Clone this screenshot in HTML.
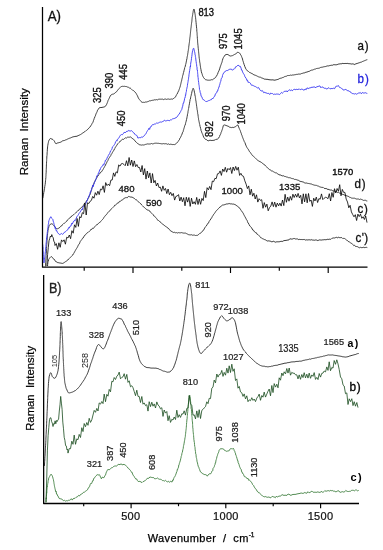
<!DOCTYPE html>
<html><head><meta charset="utf-8"><title>Raman spectra</title>
<style>
html,body{margin:0;padding:0;background:#fff;}
body{width:383px;height:550px;overflow:hidden;font-family:"Liberation Sans",sans-serif;}
svg{display:block;will-change:transform;}
svg text{font-family:"Liberation Sans",sans-serif;}
</style></head><body>
<svg width="383" height="550" viewBox="0 0 383 550">
<rect width="383" height="550" fill="#fff"/>
<g id="curves">
<path d="M47.6 266.1 L47.6 264.8 L47.7 264.4 L47.9 262.6 L48.1 261.7 L48.4 261.2 L48.6 259.7 L49.0 258.9 L49.5 258.3 L50.3 257.3 L51.1 256.5 L51.8 256.9 L52.5 257.5 L53.2 258.7 L53.9 259.0 L54.7 260.0 L55.4 261.2 L56.2 262.0 L57.0 261.8 L57.8 262.8 L58.8 262.7 L59.8 263.0 L60.8 263.1 L61.8 263.3 L62.7 263.4 L63.7 262.9 L64.6 262.3 L65.4 261.7 L66.3 261.2 L67.1 260.5 L67.8 260.1 L68.6 259.0 L69.3 258.5 L70.0 257.8 L70.7 257.1 L71.4 256.4 L72.0 255.6 L72.7 255.1 L73.3 253.9 L73.8 253.5 L74.4 252.2 L74.9 251.3 L75.3 250.6 L75.8 249.7 L76.3 248.8 L76.8 248.2 L77.3 247.3 L77.8 246.3 L78.3 245.2 L78.8 244.4 L79.3 243.9 L79.8 242.7 L80.3 241.4 L80.9 240.7 L81.4 239.9 L81.9 239.4 L82.5 238.3 L83.1 238.1 L83.7 236.9 L84.3 236.0 L84.9 235.1 L85.6 234.7 L86.3 233.7 L87.0 232.9 L87.8 232.6 L88.6 231.8 L89.4 231.5 L90.2 230.6 L91.0 229.2 L91.7 229.5 L92.5 228.2 L93.3 228.4 L94.0 227.8 L94.8 226.6 L95.6 225.7 L96.3 225.0 L97.1 224.9 L97.8 224.0 L98.6 223.2 L99.3 222.6 L100.0 222.5 L100.7 221.4 L101.4 220.7 L102.1 220.0 L102.7 219.3 L103.4 218.5 L104.0 217.3 L104.6 216.6 L105.3 215.7 L105.9 214.9 L106.5 214.6 L107.2 213.4 L107.8 212.8 L108.5 211.9 L109.2 211.2 L109.9 210.8 L110.6 209.7 L111.2 209.0 L111.9 208.5 L112.6 207.8 L113.3 207.1 L114.1 206.3 L114.8 205.1 L115.5 205.0 L116.3 204.3 L117.1 203.8 L117.8 202.7 L118.6 202.9 L119.4 201.4 L120.3 201.3 L121.1 200.6 L122.0 199.9 L122.8 199.7 L123.7 199.0 L124.6 197.9 L125.5 197.7 L126.5 197.6 L127.4 197.7 L128.4 196.4 L129.3 196.6 L130.2 197.0 L131.1 197.0 L132.0 197.2 L132.9 197.5 L133.8 198.0 L134.7 198.9 L135.5 199.6 L136.3 199.7 L137.1 200.4 L137.9 201.5 L138.7 202.0 L139.5 202.6 L140.2 203.3 L141.0 203.9 L141.7 205.0 L142.5 205.8 L143.2 206.6 L143.9 207.0 L144.7 207.7 L145.4 208.5 L146.2 209.2 L147.0 209.7 L147.9 210.2 L148.7 210.3 L149.5 210.7 L150.2 212.0 L150.9 212.5 L151.6 213.2 L152.3 213.7 L153.0 214.4 L153.7 215.8 L154.4 216.2 L155.1 216.6 L155.8 217.7 L156.5 218.4 L157.1 219.2 L157.8 220.4 L158.5 220.5 L159.2 220.9 L160.0 221.9 L160.8 222.4 L161.5 223.3 L162.3 223.9 L163.1 224.5 L163.9 224.9 L164.7 225.8 L165.5 226.2 L166.3 227.0 L167.1 227.4 L167.9 227.9 L168.7 229.0 L169.5 229.4 L170.3 230.7 L171.1 231.1 L172.0 231.7 L172.8 232.1 L173.7 232.5 L174.6 232.1 L175.5 233.0 L176.5 232.6 L177.5 233.0 L178.5 232.6 L179.5 232.8 L180.5 232.8 L181.6 232.6 L182.6 232.9 L183.6 233.1 L184.5 233.1 L185.5 233.1 L186.5 233.6 L187.5 234.1 L188.4 234.6 L189.4 234.8 L190.4 234.9 L191.4 234.7 L192.4 235.2 L193.4 235.1 L194.5 235.1 L195.5 235.5 L196.4 235.4 L197.4 235.4 L198.3 234.7 L199.1 234.2 L200.0 233.2 L200.7 233.0 L201.5 232.3 L202.1 231.8 L202.8 230.9 L203.4 229.9 L204.0 229.7 L204.6 228.1 L205.2 227.2 L205.7 226.5 L206.3 226.0 L206.9 224.9 L207.5 224.1 L208.0 223.1 L208.6 222.9 L209.1 221.5 L209.7 220.6 L210.2 220.0 L210.8 219.0 L211.3 218.2 L211.8 217.8 L212.3 216.5 L212.9 215.7 L213.4 214.8 L213.9 214.0 L214.5 213.4 L215.1 212.5 L215.7 211.5 L216.4 210.6 L217.0 210.0 L217.7 209.5 L218.4 208.6 L219.2 207.9 L220.0 206.8 L220.7 206.8 L221.6 205.6 L222.4 205.1 L223.3 205.0 L224.2 204.8 L225.2 204.5 L226.2 204.0 L227.2 204.0 L228.2 203.8 L229.2 203.5 L230.2 203.9 L231.2 203.8 L232.3 204.1 L233.2 204.0 L234.2 204.3 L235.1 204.6 L236.0 205.2 L236.9 205.9 L237.7 206.4 L238.4 206.8 L239.1 207.9 L239.7 208.2 L240.4 209.2 L241.0 210.3 L241.5 210.8 L242.1 211.9 L242.6 212.3 L243.2 213.2 L243.7 214.4 L244.2 215.3 L244.7 216.3 L245.1 216.9 L245.6 217.9 L246.1 218.8 L246.5 219.7 L247.0 220.2 L247.4 221.3 L247.8 222.7 L248.3 222.9 L248.8 224.2 L249.3 224.8 L249.8 226.0 L250.4 226.4 L251.0 227.4 L251.6 227.7 L252.2 229.0 L252.8 230.1 L253.5 230.2 L254.2 231.6 L254.9 231.8 L255.6 232.7 L256.3 232.7 L257.1 234.3 L257.8 234.5 L258.5 235.3 L259.3 235.9 L260.1 236.6 L260.8 237.8 L261.6 237.9 L262.5 238.8 L263.4 239.0 L264.3 239.5 L265.2 239.7 L266.2 240.3 L267.1 241.1 L268.1 240.8 L269.1 241.0 L270.1 241.0 L271.1 241.6 L272.1 241.9 L273.1 241.2 L274.1 241.4 L275.1 242.3 L276.1 241.9 L277.1 241.8 L278.1 241.8 L279.1 241.8 L280.1 241.6 L281.1 241.2 L282.1 241.6 L283.1 241.0 L284.0 240.6 L285.0 240.5 L286.0 240.4 L287.0 240.2 L288.0 240.0 L289.0 239.9 L289.9 238.7 L290.9 239.0 L291.9 239.1 L292.9 238.9 L293.8 238.5 L294.8 238.6 L295.8 239.1 L296.8 238.9 L297.8 239.0 L298.8 239.7 L299.8 239.3 L300.8 239.6 L301.8 239.5 L302.8 239.6 L303.8 239.5 L304.8 239.6 L305.8 240.2 L306.9 239.7 L307.9 240.1 L308.9 239.7 L309.9 239.9 L310.9 240.0 L311.9 239.6 L312.9 240.3 L313.9 240.0 L314.9 240.3 L315.9 239.8 L316.9 240.2 L317.9 240.6 L318.9 240.1 L319.9 239.8 L320.9 240.1 L321.9 240.0 L322.9 239.8 L323.9 239.8 L324.9 239.6 L325.9 239.8 L326.9 239.5 L327.9 239.2 L328.9 239.5 L329.9 239.0 L330.8 239.4 L331.8 238.4 L332.8 238.1 L333.8 237.9 L334.8 238.0 L335.8 237.5 L336.8 237.3 L337.8 237.9 L338.8 237.1 L339.8 237.8 L340.8 237.6 L341.8 237.6 L342.7 238.5 L343.7 238.4 L344.6 238.5 L345.5 239.2 L346.4 240.0 L347.2 240.4 L348.0 241.1 L348.9 241.9 L349.7 242.1 L350.5 242.8 L351.3 243.3 L352.1 243.6 L352.9 244.6 L353.7 245.6 L354.5 245.2 L355.4 246.4 L356.3 246.5 L357.3 246.6 L358.3 247.2 L359.3 247.8 L360.3 247.3 L361.2 247.6 L362.2 247.7 L363.2 247.2 L364.2 247.6 L365.3 247.5 L366.3 247.3 L367.3 247.6" fill="none" stroke="#3d3d3d" stroke-width="1.0" stroke-linejoin="round" stroke-miterlimit="8" stroke-opacity="1"/>
<path d="M45.5 266.4 L45.6 265.1 L45.6 264.0 L45.7 262.6 L45.8 261.9 L45.8 260.9 L45.9 260.0 L46.0 258.9 L46.0 258.0 L46.1 256.9 L46.1 255.7 L46.2 255.2 L46.3 254.2 L46.3 253.3 L46.4 252.0 L46.4 250.9 L46.5 249.9 L46.5 248.7 L46.6 248.2 L46.6 246.7 L46.7 245.7 L46.8 244.9 L46.8 244.3 L46.9 243.0 L47.0 241.8 L47.0 240.8 L47.1 240.1 L47.2 238.9 L47.3 237.8 L47.4 236.9 L47.4 236.1 L47.5 235.3 L47.6 233.6 L47.7 232.8 L47.9 231.7 L48.0 230.4 L48.2 229.8 L48.3 228.8 L48.5 228.2 L48.8 226.9 L49.1 225.5 L49.6 225.2 L50.2 224.4 L51.3 223.8 L52.2 223.9 L52.9 224.5 L53.6 225.3 L54.3 226.4 L55.0 226.7 L55.7 227.9 L56.5 228.8 L57.3 228.8 L58.2 228.5 L59.1 227.9 L60.0 227.3 L60.8 226.2 L61.5 226.0 L62.3 224.8 L63.0 224.3 L63.8 223.4 L64.5 223.3 L65.2 222.6 L66.0 221.6 L66.7 221.3 L67.4 220.1 L68.1 219.6 L68.8 218.9 L69.5 217.9 L70.2 217.5 L71.0 217.1 L71.7 215.9 L72.5 215.6 L73.3 214.8 L74.0 214.5 L74.8 213.6 L75.6 213.0 L76.3 212.3 L77.1 211.6 L77.8 210.6 L78.6 210.5 L79.3 209.2 L80.1 208.9 L80.8 208.2 L81.5 207.2 L82.2 206.7 L82.9 206.2 L83.5 205.2 L84.1 204.2 L84.7 203.0 L85.4 202.6 L85.9 201.9 L86.5 201.0 L87.1 200.1 L87.6 199.5 L88.1 198.5 L88.6 197.7 L89.0 196.9 L89.4 195.7 L89.8 194.9 L90.1 194.5 L90.5 193.3 L90.8 191.9 L91.1 191.2 L91.4 190.3 L91.7 189.5 L92.0 188.3 L92.3 187.2 L92.7 186.2 L93.0 185.5 L93.4 184.5 L93.8 183.5 L94.2 182.6 L94.6 181.7 L95.0 181.0 L95.5 179.8 L96.0 179.2 L96.5 178.4 L97.0 177.4 L97.5 176.3 L98.1 175.9 L98.7 174.7 L99.3 174.2 L100.0 173.2 L100.7 172.2 L101.4 171.9 L102.0 171.1 L102.5 170.2 L103.1 169.4 L103.6 168.4 L104.1 167.5 L104.5 166.7 L105.0 166.3 L105.5 165.2 L105.9 164.0 L106.4 163.3 L106.9 162.2 L107.3 161.3 L107.8 160.7 L108.3 159.5 L108.8 158.4 L109.3 157.7 L109.8 157.0 L110.3 156.2 L110.8 155.5 L111.3 154.2 L111.8 153.7 L112.3 152.7 L112.8 151.8 L113.3 151.1 L113.9 150.2 L114.4 149.0 L114.9 148.6 L115.4 147.2 L115.9 146.6 L116.5 145.7 L117.0 145.0 L117.6 143.9 L118.2 143.3 L118.9 142.6 L119.6 142.1 L120.3 141.0 L121.1 140.5 L121.9 139.8 L122.8 139.1 L123.7 139.4 L124.5 138.5 L125.5 137.8 L126.5 138.0 L127.5 137.2 L128.5 137.2 L129.4 137.2 L130.4 136.9 L131.2 137.5 L132.0 138.1 L132.8 138.8 L133.6 139.2 L134.3 140.0 L135.0 140.9 L135.8 141.9 L136.5 142.4 L137.3 143.3 L138.1 143.8 L138.9 144.3 L139.8 144.9 L140.6 144.9 L141.5 145.1 L142.5 144.9 L143.5 145.0 L144.5 144.8 L145.5 144.4 L146.5 144.2 L147.5 143.9 L148.5 144.0 L149.5 144.0 L150.5 143.9 L151.5 143.5 L152.5 143.9 L153.5 143.7 L154.5 143.3 L155.5 143.2 L156.5 143.2 L157.5 143.3 L158.5 143.3 L159.5 143.5 L160.5 143.6 L161.5 143.8 L162.5 143.8 L163.5 143.6 L164.5 143.8 L165.5 143.7 L166.5 143.8 L167.5 144.3 L168.6 143.9 L169.6 144.5 L170.7 144.2 L171.7 144.4 L172.7 144.6 L173.7 144.5 L174.5 144.6 L175.4 144.2 L176.2 143.6 L176.9 142.9 L177.6 141.9 L178.3 141.4 L178.8 140.3 L179.4 139.8 L179.9 138.1 L180.4 137.7 L180.8 136.9 L181.2 135.8 L181.6 135.2 L182.0 134.1 L182.4 133.0 L182.7 132.2 L183.1 131.7 L183.4 130.3 L183.7 129.4 L184.0 128.3 L184.3 127.4 L184.6 126.2 L184.9 125.4 L185.2 125.0 L185.5 123.7 L185.7 122.7 L186.0 121.8 L186.2 121.0 L186.5 119.7 L186.7 119.0 L186.9 117.9 L187.1 116.7 L187.3 116.0 L187.5 114.2 L187.7 113.6 L187.9 112.8 L188.0 111.6 L188.2 110.7 L188.4 109.6 L188.5 108.6 L188.7 108.3 L188.9 106.9 L189.0 105.8 L189.2 105.1 L189.4 103.8 L189.6 103.0 L189.7 101.9 L189.9 101.2 L190.1 99.6 L190.4 99.0 L190.6 97.9 L190.8 96.6 L191.1 95.8 L191.4 94.1 L191.7 93.3 L191.9 91.9 L192.2 90.8 L192.5 89.8 L192.8 89.2 L193.1 88.2 L193.4 88.5 L193.6 88.8 L193.9 89.8 L194.2 90.8 L194.4 92.2 L194.7 93.2 L194.9 94.9 L195.1 96.0 L195.3 96.5 L195.4 97.5 L195.6 98.6 L195.7 99.7 L195.9 100.9 L196.0 101.2 L196.1 102.3 L196.3 103.3 L196.4 104.2 L196.5 105.1 L196.7 106.5 L196.8 107.2 L197.0 108.7 L197.1 109.6 L197.3 110.2 L197.4 111.2 L197.6 112.3 L197.7 113.7 L197.9 114.2 L198.0 115.1 L198.2 116.4 L198.3 117.5 L198.5 118.3 L198.6 119.7 L198.8 120.4 L199.0 121.4 L199.2 122.2 L199.4 123.3 L199.6 124.3 L199.8 124.8 L200.0 126.3 L200.3 126.9 L200.5 128.2 L200.8 128.9 L201.1 130.6 L201.4 131.2 L201.7 132.2 L202.0 133.2 L202.4 133.7 L202.7 134.5 L203.2 135.8 L203.6 137.0 L204.1 137.8 L204.7 138.6 L205.3 139.3 L206.2 139.4 L207.1 140.2 L208.1 140.9 L209.1 140.5 L210.1 140.2 L211.1 140.5 L212.1 140.4 L213.1 140.5 L214.1 140.1 L215.1 140.1 L216.0 139.2 L216.9 139.4 L217.8 138.9 L218.6 138.2 L219.2 136.9 L219.6 136.5 L220.0 134.9 L220.4 134.6 L220.8 133.6 L221.1 132.4 L221.5 131.7 L221.8 130.7 L222.2 129.7 L222.6 128.4 L222.9 127.2 L223.3 125.7 L223.7 125.1 L224.3 124.9 L225.1 125.2 L226.1 125.4 L227.1 126.0 L228.0 126.0 L228.9 126.7 L229.8 127.3 L230.8 127.4 L231.7 127.6 L232.8 127.3 L233.8 127.5 L234.7 127.0 L235.6 126.7 L236.5 125.7 L237.2 125.4 L237.8 124.9 L238.3 126.1 L238.7 127.1 L239.2 128.3 L239.6 129.4 L239.9 129.8 L240.3 130.7 L240.6 131.7 L241.0 132.9 L241.3 133.5 L241.6 134.8 L242.0 135.5 L242.3 136.5 L242.7 137.6 L243.1 138.6 L243.4 139.4 L243.8 140.3 L244.2 141.4 L244.6 142.2 L245.0 142.7 L245.4 144.0 L245.8 145.1 L246.3 146.2 L246.7 147.2 L247.2 147.8 L247.7 148.6 L248.2 149.2 L248.8 150.3 L249.3 151.3 L249.9 152.2 L250.5 152.6 L251.1 153.6 L251.7 154.5 L252.4 155.5 L253.0 155.9 L253.7 156.5 L254.4 157.2 L255.2 157.9 L255.9 158.6 L256.7 159.5 L257.5 160.2 L258.3 160.7 L259.1 161.3 L260.0 161.5 L260.9 162.2 L261.7 162.6 L262.5 163.2 L263.3 164.1 L264.0 164.5 L264.8 164.9 L265.5 165.9 L266.2 166.5 L266.9 167.1 L267.7 167.9 L268.5 168.8 L269.3 169.5 L270.1 169.7 L271.0 170.5 L271.8 171.1 L272.7 171.1 L273.6 171.8 L274.5 172.3 L275.4 172.8 L276.3 172.8 L277.2 173.5 L278.1 174.2 L279.0 174.6 L280.0 175.1 L280.9 175.0 L281.9 175.8 L282.8 175.9 L283.8 175.8 L284.7 176.5 L285.7 176.6 L286.6 177.0 L287.6 177.2 L288.6 177.7 L289.6 177.7 L290.5 177.9 L291.5 178.4 L292.5 178.6 L293.4 178.7 L294.4 179.4 L295.3 179.4 L296.3 179.6 L297.2 180.0 L298.2 180.2 L299.1 180.7 L300.1 181.5 L301.0 181.3 L301.9 181.8 L302.9 181.9 L303.9 182.3 L304.8 183.0 L305.8 183.1 L306.8 183.0 L307.7 183.4 L308.7 183.5 L309.7 183.7 L310.7 183.9 L311.7 184.1 L312.6 184.6 L313.6 184.9 L314.6 185.2 L315.5 185.3 L316.5 185.4 L317.5 185.9 L318.4 186.1 L319.4 186.7 L320.3 187.0 L321.3 187.3 L322.2 187.4 L323.2 187.4 L324.1 188.3 L325.1 188.6 L326.1 188.4 L327.0 189.0 L328.0 189.5 L329.0 189.3 L329.9 190.1 L330.9 190.0 L331.9 190.1 L332.8 190.9 L333.8 191.0 L334.7 191.1 L335.7 191.7 L336.6 191.5 L337.6 192.6 L338.5 192.4 L339.4 193.0 L340.4 193.3 L341.3 193.8 L342.2 194.3 L343.1 194.3 L344.1 195.0 L345.0 195.2 L346.0 195.5 L346.9 195.9 L347.8 196.2 L348.8 196.6 L349.7 197.3 L350.6 197.5 L351.6 198.1 L352.5 198.2 L353.5 198.2 L354.5 198.2 L355.4 198.6 L356.4 199.0 L357.4 199.0 L358.4 199.0 L359.4 199.5 L360.4 199.1 L361.4 199.4 L362.4 199.8 L363.4 200.4 L364.4 200.3 L365.3 200.2 L366.3 200.8 L367.3 201.0" fill="none" stroke="#3d3d3d" stroke-width="1.0" stroke-linejoin="round" stroke-miterlimit="8" stroke-opacity="1"/>
<path d="M42.7 244.3 L42.8 245.5 L42.8 245.5 L42.9 248.2 L42.9 247.7 L43.0 249.1 L43.1 250.7 L43.1 250.9 L43.2 252.0 L43.3 253.1 L43.3 254.8 L43.4 256.8 L43.5 257.0 L43.6 257.8 L43.6 259.9 L43.7 260.5 L43.8 261.7 L43.9 262.8 L44.0 262.2 L44.1 262.3 L44.2 261.2 L44.4 260.5 L44.5 259.5 L44.7 257.7 L44.8 256.6 L44.9 255.5 L45.1 254.3 L45.2 253.0 L45.3 251.9 L45.4 251.5 L45.5 250.4 L45.6 250.6 L45.7 247.5 L45.7 247.6 L45.8 246.7 L45.9 246.2 L46.0 244.8 L46.1 243.2 L46.2 242.6 L46.3 241.8 L46.4 240.4 L46.5 239.9 L46.6 237.8 L46.7 238.4 L46.8 237.3 L46.9 235.4 L47.0 234.9 L47.2 233.6 L47.3 232.2 L47.4 231.6 L47.5 231.1 L47.6 229.4 L47.7 228.4 L47.9 227.6 L48.0 226.8 L48.1 226.2 L48.3 224.4 L48.5 223.9 L48.6 222.8 L48.8 220.8 L49.0 220.5 L49.3 219.6 L49.6 218.8 L50.1 217.9 L50.8 216.7 L51.7 218.3 L52.3 218.8 L52.8 219.3 L53.2 221.1 L53.5 222.1 L53.7 222.5 L54.0 224.1 L54.2 224.6 L54.5 225.8 L54.8 226.2 L55.1 228.4 L55.5 227.4 L55.9 229.6 L56.3 230.9 L56.8 230.6 L57.3 232.2 L57.9 232.9 L58.7 233.9 L59.7 234.6 L60.7 234.1 L61.6 233.5 L62.5 234.3 L63.4 233.7 L64.2 232.4 L65.0 232.1 L65.8 231.5 L66.5 230.8 L67.2 229.9 L67.9 229.7 L68.6 227.6 L69.2 228.1 L69.8 227.0 L70.4 225.9 L71.1 225.8 L71.6 223.4 L72.2 224.1 L72.8 223.0 L73.4 221.5 L74.0 221.4 L74.6 220.2 L75.2 220.7 L75.7 219.5 L76.3 218.1 L76.9 216.7 L77.4 216.0 L78.0 215.3 L78.6 214.3 L79.1 213.3 L79.7 212.6 L80.2 211.9 L80.8 211.0 L81.3 210.1 L81.9 209.1 L82.4 209.8 L82.9 207.2 L83.5 206.5 L84.0 206.3 L84.5 205.1 L85.0 204.6 L85.5 203.9 L86.0 203.2 L86.5 202.1 L87.0 200.5 L87.4 200.5 L87.8 198.3 L88.2 198.1 L88.6 197.0 L88.9 195.8 L89.3 195.6 L89.6 194.3 L89.9 193.9 L90.3 191.9 L90.6 192.0 L91.0 190.9 L91.4 189.8 L91.7 188.1 L92.1 187.7 L92.5 186.2 L92.9 185.1 L93.3 186.6 L93.7 184.6 L94.1 184.1 L94.5 182.1 L94.9 181.7 L95.3 180.8 L95.7 179.8 L96.1 178.6 L96.4 177.6 L96.8 175.9 L97.2 176.1 L97.6 175.1 L98.0 174.5 L98.4 173.0 L98.8 173.0 L99.3 171.1 L99.7 169.8 L100.1 169.9 L100.6 168.4 L101.1 167.2 L101.6 166.9 L102.1 166.4 L102.7 165.3 L103.2 164.5 L103.8 165.3 L104.3 163.0 L104.9 162.5 L105.4 160.1 L105.9 160.3 L106.5 159.6 L107.0 158.2 L107.4 157.1 L107.9 156.8 L108.3 155.6 L108.8 154.5 L109.2 154.4 L109.6 153.6 L110.1 152.2 L110.5 151.0 L111.0 150.6 L111.5 149.8 L112.0 148.8 L112.4 147.0 L112.9 146.6 L113.4 146.1 L113.9 145.3 L114.4 144.6 L115.0 143.7 L115.5 142.0 L116.0 141.3 L116.6 140.3 L117.2 140.8 L117.7 139.2 L118.3 138.5 L118.9 137.9 L119.6 136.5 L120.2 135.4 L120.9 135.0 L121.6 134.5 L122.4 134.7 L123.2 133.8 L124.1 132.3 L125.0 132.6 L125.9 132.3 L126.9 131.1 L127.8 131.3 L128.9 130.3 L129.9 131.2 L130.8 130.9 L131.6 130.7 L132.5 131.5 L133.3 132.6 L134.1 133.0 L134.8 134.2 L135.6 135.0 L136.4 135.1 L137.2 136.1 L137.9 138.1 L138.7 137.8 L139.5 137.6 L140.4 137.9 L141.3 136.9 L142.2 137.4 L143.1 136.5 L143.9 136.2 L144.6 135.4 L145.2 134.5 L145.8 133.9 L146.4 132.7 L147.0 131.5 L147.6 130.5 L148.2 129.9 L148.9 128.3 L149.6 129.4 L150.2 127.1 L150.9 127.0 L151.6 125.7 L152.4 124.7 L153.1 124.9 L153.9 124.3 L154.7 124.0 L155.6 123.9 L156.6 123.0 L157.5 123.2 L158.5 122.9 L159.5 122.3 L160.5 122.0 L161.5 122.1 L162.5 121.6 L163.4 121.4 L164.4 120.1 L165.4 120.9 L166.3 120.8 L167.3 120.4 L168.3 120.4 L169.3 120.9 L170.3 119.8 L171.4 119.9 L172.3 119.0 L173.3 118.7 L174.2 118.6 L175.1 118.0 L175.9 118.0 L176.7 116.9 L177.5 116.5 L178.2 115.2 L178.8 114.3 L179.3 114.0 L179.8 113.0 L180.2 112.3 L180.7 111.4 L181.1 110.5 L181.4 110.2 L181.8 109.4 L182.1 108.1 L182.4 106.6 L182.7 106.5 L183.0 104.2 L183.3 103.0 L183.6 103.1 L183.9 102.0 L184.1 101.0 L184.4 100.1 L184.6 98.4 L184.9 97.6 L185.1 97.7 L185.3 96.6 L185.5 94.9 L185.7 95.1 L186.0 92.7 L186.2 92.0 L186.4 91.4 L186.5 89.7 L186.7 89.1 L186.9 88.2 L187.1 87.1 L187.3 86.7 L187.4 85.6 L187.6 83.9 L187.8 83.1 L187.9 82.5 L188.1 81.4 L188.2 80.0 L188.4 79.6 L188.5 78.8 L188.7 77.1 L188.8 76.8 L189.0 74.7 L189.1 73.7 L189.2 73.7 L189.4 72.1 L189.5 71.0 L189.7 70.4 L189.8 69.2 L190.0 68.6 L190.1 66.8 L190.3 66.3 L190.5 66.9 L190.6 64.5 L190.8 62.5 L191.0 62.5 L191.1 61.2 L191.3 60.3 L191.5 58.4 L191.7 56.7 L191.8 56.4 L192.0 54.8 L192.2 52.5 L192.4 52.5 L192.5 51.1 L192.7 50.8 L192.9 49.4 L193.1 49.3 L193.2 48.6 L193.4 48.6 L193.6 48.3 L193.8 48.3 L194.0 48.9 L194.1 49.7 L194.3 50.3 L194.5 51.7 L194.7 52.1 L194.9 53.2 L195.1 54.9 L195.3 55.2 L195.4 56.7 L195.6 57.4 L195.8 59.0 L196.0 61.1 L196.2 61.8 L196.3 63.6 L196.5 63.7 L196.6 64.8 L196.8 66.7 L197.0 67.0 L197.1 69.8 L197.2 70.1 L197.4 70.0 L197.5 71.5 L197.6 72.3 L197.7 73.8 L197.8 74.5 L197.9 76.0 L198.0 77.2 L198.1 77.5 L198.2 78.0 L198.3 79.8 L198.4 80.5 L198.6 82.1 L198.7 82.5 L198.8 83.9 L198.9 84.7 L199.1 85.5 L199.2 86.3 L199.4 87.8 L199.5 89.6 L199.7 89.9 L199.9 90.5 L200.1 91.9 L200.3 92.7 L200.6 93.1 L200.9 94.9 L201.2 96.4 L201.5 96.4 L201.9 96.9 L202.3 98.3 L202.9 99.5 L203.8 99.8 L204.7 100.5 L205.7 101.5 L206.7 101.5 L207.6 101.2 L208.6 100.6 L209.5 100.4 L210.5 99.8 L211.4 99.7 L212.2 98.3 L212.9 98.8 L213.6 97.5 L214.2 96.5 L214.8 96.2 L215.3 94.1 L215.8 93.7 L216.3 92.8 L216.8 92.6 L217.2 91.0 L217.7 91.0 L218.1 89.2 L218.4 88.7 L218.8 87.2 L219.1 87.1 L219.4 85.5 L219.7 84.9 L220.0 83.5 L220.3 82.3 L220.5 81.7 L220.8 81.3 L221.1 79.4 L221.5 78.2 L221.8 77.8 L222.2 77.3 L222.5 75.5 L222.8 74.6 L223.2 74.0 L223.6 72.8 L224.0 72.4 L224.6 72.2 L225.4 71.1 L226.3 70.6 L227.3 70.6 L228.3 70.0 L229.3 69.4 L230.3 69.2 L231.4 69.1 L232.4 70.3 L233.3 69.2 L234.2 69.1 L234.9 68.4 L235.6 66.8 L236.4 66.7 L237.2 65.8 L238.1 65.1 L239.2 66.2 L240.1 66.1 L240.6 67.0 L241.1 68.2 L241.5 70.0 L241.9 69.9 L242.3 71.1 L242.7 72.2 L243.2 73.1 L243.6 73.8 L244.0 74.3 L244.5 75.3 L244.9 76.6 L245.3 77.0 L245.8 78.1 L246.4 78.7 L246.9 80.5 L247.5 80.2 L248.2 82.5 L248.9 82.1 L249.6 82.6 L250.4 83.2 L251.1 84.8 L251.9 85.4 L252.8 85.1 L253.7 86.1 L254.6 86.3 L255.5 86.6 L256.4 87.2 L257.3 88.0 L258.1 87.4 L258.9 87.9 L259.7 89.7 L260.4 90.2 L261.2 91.1 L262.1 90.6 L263.0 91.3 L263.9 92.9 L264.8 92.0 L265.8 93.2 L266.7 93.0 L267.7 93.5 L268.7 93.3 L269.7 94.5 L270.6 93.1 L271.6 93.5 L272.6 93.6 L273.7 94.5 L274.7 94.1 L275.7 94.3 L276.7 94.0 L277.7 94.1 L278.7 94.2 L279.6 94.5 L280.6 93.6 L281.5 92.4 L282.4 93.2 L283.4 92.3 L284.3 91.3 L285.3 91.4 L286.3 90.8 L287.2 92.0 L288.2 90.7 L289.2 89.7 L290.2 90.6 L291.2 89.9 L292.2 90.7 L293.2 90.1 L294.2 89.1 L295.2 89.7 L296.2 89.3 L297.2 89.5 L298.2 89.5 L299.2 88.8 L300.2 89.8 L301.2 89.2 L302.2 89.2 L303.2 89.8 L304.2 90.2 L305.1 88.9 L306.1 89.8 L307.1 87.8 L308.1 88.7 L309.1 88.0 L310.1 88.0 L311.0 87.4 L312.0 87.3 L313.0 87.2 L314.0 86.9 L315.0 87.1 L315.9 87.8 L316.9 86.4 L317.9 86.7 L318.9 86.1 L319.9 85.9 L320.9 87.8 L321.9 86.8 L322.9 87.3 L323.9 87.9 L324.8 88.4 L325.8 88.3 L326.9 89.1 L327.9 88.3 L328.9 87.7 L329.9 88.7 L330.9 88.8 L331.9 88.4 L332.8 88.6 L333.7 88.2 L334.6 88.7 L335.5 87.0 L336.4 86.0 L337.3 86.4 L338.2 85.4 L339.0 86.8 L339.8 87.5 L340.6 87.7 L341.5 88.4 L342.4 88.8 L343.3 90.1 L344.3 89.9 L345.2 89.4 L346.2 89.7 L347.2 90.5 L348.1 90.8 L349.1 90.9 L350.0 91.9 L350.9 92.2 L351.8 93.4 L352.6 93.6 L353.6 93.7 L354.5 94.0 L355.4 93.6 L356.4 94.2 L357.4 93.7 L358.4 93.1 L359.4 93.0 L360.3 92.5 L361.3 93.8 L362.3 92.5 L363.3 93.0 L364.3 93.0 L365.3 92.7 L366.3 93.2 L367.3 93.4" fill="none" stroke="#3535f0" stroke-width="0.9" stroke-linejoin="round" stroke-miterlimit="8" stroke-opacity="1"/>
<path d="M42.8 198.2 L43.0 196.9 L43.2 195.9 L43.4 194.9 L43.6 194.2 L43.7 192.7 L43.9 192.3 L44.1 191.0 L44.3 190.1 L44.4 189.1 L44.6 188.3 L44.7 186.8 L44.9 186.1 L45.0 185.1 L45.2 184.3 L45.3 183.0 L45.4 182.1 L45.5 181.0 L45.6 180.2 L45.7 179.3 L45.8 178.0 L45.9 177.4 L45.9 176.3 L46.0 175.3 L46.0 174.3 L46.1 173.1 L46.2 172.2 L46.2 171.0 L46.2 170.1 L46.3 169.3 L46.3 168.1 L46.4 167.1 L46.4 166.1 L46.4 165.0 L46.5 164.1 L46.5 163.2 L46.6 162.0 L46.6 161.2 L46.7 160.4 L46.7 159.3 L46.8 158.1 L46.8 157.0 L46.9 156.0 L47.0 155.4 L47.1 154.1 L47.1 153.0 L47.2 152.1 L47.3 151.4 L47.3 150.0 L47.4 149.1 L47.5 148.0 L47.6 146.9 L47.7 145.8 L47.9 145.0 L48.0 144.0 L48.2 143.2 L48.4 142.3 L48.6 141.3 L49.1 140.1 L49.7 139.2 L50.4 138.4 L51.1 138.8 L52.1 139.1 L53.0 139.6 L53.8 140.4 L54.4 141.2 L55.0 142.5 L55.5 143.4 L56.2 143.7 L57.0 143.1 L57.9 142.9 L58.8 142.7 L59.8 142.4 L60.8 142.1 L61.8 141.5 L62.8 140.7 L63.8 140.6 L64.7 140.4 L65.6 139.9 L66.6 139.6 L67.5 139.1 L68.4 138.7 L69.3 138.3 L70.3 138.0 L71.2 137.6 L72.1 137.2 L73.1 136.8 L74.1 136.7 L75.0 136.4 L76.0 136.4 L77.0 136.2 L78.0 135.7 L78.9 135.3 L79.8 134.9 L80.6 134.5 L81.5 133.9 L82.3 133.3 L83.2 132.8 L84.0 132.1 L84.8 131.7 L85.6 130.9 L86.4 130.5 L87.2 129.8 L88.0 129.2 L88.7 128.2 L89.4 127.7 L90.0 127.0 L90.6 126.0 L91.2 125.2 L91.7 124.4 L92.2 123.3 L92.7 122.7 L93.1 121.9 L93.4 120.7 L93.8 119.9 L94.1 118.7 L94.5 118.0 L94.8 116.8 L95.2 116.3 L95.6 115.2 L95.9 114.2 L96.3 113.2 L96.7 112.5 L97.1 111.7 L97.5 110.2 L98.0 109.8 L98.5 109.0 L99.2 107.9 L99.9 107.4 L100.9 107.6 L102.0 107.4 L103.1 107.2 L104.0 107.0 L104.8 106.8 L105.6 106.0 L106.2 105.0 L106.7 104.3 L107.1 103.2 L107.4 102.5 L107.8 101.4 L108.1 100.4 L108.6 99.5 L109.0 98.7 L109.4 97.8 L109.8 96.9 L110.3 96.0 L110.9 95.1 L111.7 94.5 L112.6 94.2 L113.6 94.0 L114.5 93.5 L115.2 92.6 L115.9 92.3 L116.6 91.7 L117.3 90.7 L117.9 89.9 L118.6 89.1 L119.3 88.4 L120.0 87.6 L120.8 86.7 L121.6 86.5 L122.6 86.3 L123.6 86.4 L124.6 86.3 L125.6 86.5 L126.6 86.6 L127.6 87.1 L128.5 87.3 L129.4 88.0 L130.2 88.0 L131.1 88.8 L131.9 89.6 L132.7 90.4 L133.5 90.6 L134.3 91.3 L135.0 92.0 L135.7 92.9 L136.2 93.5 L136.7 94.5 L137.2 95.3 L137.6 96.1 L138.0 97.2 L138.5 98.2 L139.0 99.1 L139.6 99.7 L140.3 100.5 L141.0 101.5 L141.8 102.1 L142.6 102.4 L143.5 102.3 L144.5 102.4 L145.5 102.0 L146.5 102.0 L147.5 101.7 L148.5 101.4 L149.5 100.8 L150.5 100.8 L151.4 100.5 L152.4 100.3 L153.4 100.2 L154.4 99.8 L155.4 99.9 L156.4 99.6 L157.4 99.9 L158.4 99.3 L159.4 99.2 L160.4 99.2 L161.4 99.2 L162.4 99.1 L163.4 99.6 L164.4 99.2 L165.4 99.0 L166.5 99.4 L167.5 99.1 L168.5 99.0 L169.5 99.3 L170.5 99.2 L171.4 99.0 L172.4 99.2 L173.3 98.6 L174.2 98.2 L174.9 97.3 L175.6 96.8 L176.1 95.7 L176.6 94.6 L177.1 94.2 L177.6 92.9 L178.0 92.1 L178.5 91.1 L178.9 90.3 L179.2 89.4 L179.5 88.5 L179.8 87.6 L180.1 86.8 L180.4 85.6 L180.7 84.4 L180.9 83.5 L181.1 82.6 L181.4 81.4 L181.6 80.8 L181.8 79.6 L182.0 78.7 L182.3 77.7 L182.5 76.5 L182.7 75.6 L183.0 74.9 L183.2 73.9 L183.4 72.8 L183.7 72.2 L184.0 70.7 L184.2 69.9 L184.5 68.9 L184.7 67.6 L185.0 67.3 L185.3 66.1 L185.5 64.9 L185.7 64.4 L186.0 63.2 L186.2 62.2 L186.4 61.1 L186.6 60.2 L186.8 59.0 L187.0 58.4 L187.1 57.2 L187.3 56.3 L187.5 55.5 L187.7 54.3 L187.8 53.3 L188.0 52.4 L188.1 51.2 L188.3 50.5 L188.4 49.6 L188.6 48.5 L188.7 47.5 L188.8 46.2 L189.0 45.2 L189.1 44.2 L189.2 43.6 L189.4 42.3 L189.5 41.6 L189.6 40.3 L189.7 39.3 L189.8 38.4 L189.9 37.5 L190.1 36.4 L190.2 35.4 L190.3 34.4 L190.4 33.4 L190.5 32.3 L190.6 31.4 L190.7 30.4 L190.8 29.4 L190.9 28.5 L191.1 27.3 L191.2 26.4 L191.3 25.4 L191.4 24.5 L191.5 23.6 L191.7 22.3 L191.8 21.6 L191.9 20.8 L192.0 19.3 L192.1 18.4 L192.2 17.4 L192.4 16.4 L192.5 15.7 L192.7 14.5 L192.8 13.4 L193.0 12.6 L193.2 11.3 L193.4 10.3 L193.7 9.2 L193.9 9.0 L194.2 9.3 L194.4 11.0 L194.7 11.9 L194.9 13.0 L195.0 13.8 L195.2 14.7 L195.3 15.7 L195.4 16.8 L195.6 17.7 L195.7 18.9 L195.8 19.7 L195.9 20.9 L196.0 22.0 L196.1 22.7 L196.2 24.0 L196.3 24.8 L196.4 26.0 L196.5 26.9 L196.6 28.0 L196.7 28.6 L196.8 29.8 L196.8 31.0 L196.9 31.7 L197.0 32.5 L197.1 33.5 L197.1 34.4 L197.2 35.5 L197.3 36.7 L197.3 38.0 L197.4 38.7 L197.5 39.8 L197.6 40.8 L197.6 41.8 L197.7 42.8 L197.8 43.8 L197.9 44.9 L198.0 45.6 L198.1 46.9 L198.2 47.9 L198.3 48.7 L198.4 49.9 L198.5 50.7 L198.6 51.7 L198.7 52.8 L198.8 53.7 L198.9 54.7 L199.0 55.7 L199.1 56.7 L199.2 57.9 L199.3 58.5 L199.5 59.8 L199.6 60.7 L199.7 61.8 L199.9 62.8 L200.0 63.3 L200.2 64.8 L200.3 65.8 L200.5 66.8 L200.6 67.7 L200.8 68.9 L201.0 69.7 L201.2 71.0 L201.4 71.8 L201.7 73.0 L201.9 73.4 L202.2 74.3 L202.6 75.7 L203.1 76.7 L203.6 77.6 L204.1 78.2 L204.8 79.1 L205.4 79.6 L206.3 79.8 L207.3 80.1 L208.4 80.2 L209.4 80.2 L210.4 80.1 L211.4 79.7 L212.4 79.8 L213.4 79.0 L214.2 78.6 L215.0 77.8 L215.6 77.5 L216.1 76.3 L216.7 75.9 L217.1 74.8 L217.6 74.2 L218.0 72.7 L218.4 71.9 L218.8 71.0 L219.2 70.2 L219.6 69.0 L219.9 68.1 L220.2 66.9 L220.5 66.1 L220.8 65.3 L221.1 64.5 L221.5 63.3 L221.8 62.7 L222.1 61.7 L222.4 60.4 L222.8 59.0 L223.1 58.2 L223.5 57.4 L223.9 56.8 L224.5 56.0 L225.2 54.9 L226.1 54.5 L227.0 54.5 L227.9 54.5 L228.8 55.0 L229.7 56.0 L230.7 56.0 L231.6 55.8 L232.5 55.6 L233.4 55.1 L234.4 54.5 L235.2 54.2 L236.1 53.5 L237.0 52.8 L237.8 52.2 L238.6 52.5 L239.4 52.9 L240.1 53.8 L240.7 54.8 L241.2 55.6 L241.6 56.6 L241.9 57.4 L242.2 58.0 L242.5 59.0 L242.8 60.4 L243.1 61.2 L243.4 62.3 L243.7 63.0 L244.0 64.3 L244.4 65.0 L244.7 66.3 L245.1 67.0 L245.5 68.2 L245.9 69.0 L246.4 69.6 L247.0 70.6 L247.7 70.9 L248.5 71.5 L249.3 72.3 L250.3 72.7 L251.2 73.2 L252.1 73.7 L252.9 74.0 L253.8 74.8 L254.8 75.1 L255.7 75.4 L256.6 75.8 L257.5 76.3 L258.5 76.8 L259.4 77.1 L260.4 77.2 L261.3 77.8 L262.2 78.1 L263.2 78.4 L264.1 79.1 L265.1 79.1 L266.0 79.3 L267.0 79.3 L268.0 79.4 L269.0 79.8 L270.0 79.7 L271.0 80.0 L272.0 79.8 L273.0 79.9 L274.0 80.1 L275.0 80.2 L276.0 79.8 L276.9 79.7 L277.9 79.4 L278.9 79.0 L279.8 78.4 L280.8 78.2 L281.7 78.0 L282.7 77.5 L283.6 77.3 L284.6 76.6 L285.5 76.4 L286.5 76.2 L287.4 75.6 L288.4 75.5 L289.4 75.5 L290.4 75.1 L291.4 75.3 L292.4 75.0 L293.4 75.0 L294.4 74.8 L295.3 74.7 L296.3 74.4 L297.3 74.4 L298.3 74.1 L299.3 74.1 L300.3 74.1 L301.3 73.6 L302.3 73.4 L303.2 73.0 L304.2 73.0 L305.1 72.5 L306.1 72.2 L307.0 72.1 L308.0 71.6 L308.9 71.4 L309.8 71.1 L310.8 70.4 L311.7 70.1 L312.6 70.0 L313.6 69.6 L314.5 69.2 L315.5 69.0 L316.5 68.5 L317.4 68.4 L318.4 68.3 L319.4 68.1 L320.4 67.5 L321.3 67.3 L322.3 67.2 L323.3 66.9 L324.3 66.7 L325.3 66.6 L326.2 66.3 L327.2 65.9 L328.2 66.0 L329.2 65.7 L330.2 65.5 L331.2 65.2 L332.2 65.4 L333.1 64.8 L334.1 64.7 L335.1 64.8 L336.1 64.8 L337.1 64.7 L338.1 64.1 L339.1 64.1 L340.1 63.7 L341.1 64.0 L342.1 63.4 L343.1 63.5 L344.1 63.6 L345.1 63.4 L346.1 63.6 L347.1 63.3 L348.1 63.6 L349.1 63.7 L350.1 63.7 L351.1 64.0 L352.1 64.0 L353.1 63.7 L354.1 64.6 L355.1 64.1 L356.0 63.9 L357.0 63.4 L357.9 63.3 L358.9 62.8 L359.8 62.6 L360.8 62.2 L361.7 62.0 L362.7 61.4 L363.6 61.1 L364.5 60.7 L365.5 60.3 L366.4 59.9 L367.3 59.7" fill="none" stroke="#3d3d3d" stroke-width="1.0" stroke-linejoin="round" stroke-miterlimit="8" stroke-opacity="1"/>
<path d="M46.9 266.0 L47.6 254.5 L48.3 247.5 L49.0 240.8 L49.7 238.6 L50.4 236.1 L51.1 237.0 L51.8 234.6 L52.5 236.8 L53.2 237.7 L53.9 241.6 L54.6 242.0 L55.0 245.5 L56.3 243.6 L57.6 249.3 L58.9 242.8 L60.2 247.3 L61.5 239.9 L62.8 241.6 L64.1 239.8 L65.4 244.2 L66.7 237.2 L68.0 238.0 L69.3 235.0 L70.6 238.7 L71.9 230.7 L73.2 233.2 L74.5 224.8 L75.8 227.4 L77.1 218.5 L78.4 226.4 L79.7 216.6 L81.0 217.8 L82.3 212.7 L83.6 213.7 L84.9 203.1 L86.2 215.0 L87.5 202.8 L88.8 203.5 L90.1 201.3 L91.4 200.4 L92.7 196.4 L94.0 198.2 L95.3 192.6 L96.6 195.2 L97.9 191.2 L99.2 194.6 L100.5 189.1 L101.8 189.9 L103.1 185.8 L104.4 192.4 L105.7 182.6 L107.0 185.6 L108.3 184.1 L109.6 185.7 L110.9 180.1 L112.2 180.0 L113.5 172.9 L114.8 176.4 L116.1 171.8 L117.4 172.9 L118.7 164.9 L120.0 166.2 L121.3 163.8 L122.6 163.5 L123.9 164.4 L125.2 165.7 L126.5 160.7 L127.8 165.9 L129.1 157.5 L130.4 165.2 L131.7 160.0 L133.0 166.5 L134.3 160.9 L135.6 166.7 L136.9 164.5 L138.2 167.5 L139.5 167.5 L140.8 172.0 L142.1 165.5 L143.4 174.9 L144.7 168.6 L146.0 179.1 L147.3 171.0 L148.6 177.8 L149.9 172.9 L151.2 183.0 L152.5 173.6 L153.8 182.8 L155.1 180.4 L156.4 186.0 L157.7 183.0 L159.0 187.6 L160.3 187.1 L161.6 191.3 L162.9 185.9 L164.2 190.3 L165.5 188.4 L166.8 193.6 L168.1 189.0 L169.4 194.7 L170.7 192.3 L172.0 195.7 L173.3 193.4 L174.6 200.1 L175.9 196.4 L177.2 196.0 L178.5 194.6 L179.8 201.0 L181.1 197.1 L182.4 201.7 L183.7 197.7 L185.0 205.8 L186.3 197.2 L187.6 202.1 L188.9 197.5 L190.2 206.4 L191.5 198.2 L192.8 204.0 L194.1 201.7 L195.4 204.3 L196.7 197.4 L198.0 204.5 L199.3 198.9 L200.6 204.3 L201.9 198.4 L203.2 200.6 L204.5 191.3 L205.8 197.6 L207.1 187.7 L208.4 189.8 L209.7 186.4 L211.0 189.7 L212.3 181.1 L213.6 181.7 L214.9 178.3 L216.2 178.7 L217.5 173.8 L218.8 173.6 L220.1 170.9 L221.4 175.4 L222.7 169.0 L224.0 171.6 L225.3 167.3 L226.6 172.2 L227.9 168.4 L229.2 169.8 L230.5 167.6 L231.8 173.5 L233.1 167.0 L234.4 170.6 L235.7 166.4 L237.0 170.2 L238.3 167.2 L239.6 175.4 L240.9 173.3 L242.2 175.8 L243.5 176.3 L244.8 180.8 L246.1 184.1 L247.4 188.6 L248.7 185.9 L250.0 194.8 L251.3 189.2 L252.6 196.2 L253.9 193.2 L255.2 199.0 L256.5 194.8 L257.8 202.1 L259.1 198.7 L260.4 200.4 L261.7 199.7 L263.0 208.3 L264.3 202.6 L265.6 207.2 L266.9 204.1 L268.2 210.8 L269.5 207.6 L270.8 206.1 L272.1 201.9 L273.4 206.6 L274.7 202.1 L276.0 207.2 L277.3 203.1 L278.6 205.9 L279.9 203.1 L281.2 206.1 L282.5 200.0 L283.8 205.6 L285.1 194.3 L286.4 202.3 L287.7 197.1 L289.0 201.2 L290.3 196.4 L291.6 200.2 L292.9 194.2 L294.2 197.5 L295.5 194.2 L296.8 197.2 L298.1 193.4 L299.4 197.9 L300.7 195.3 L302.0 203.9 L303.3 193.8 L304.6 201.9 L305.9 193.8 L307.2 202.8 L308.5 193.5 L309.8 201.4 L311.1 200.0 L312.4 206.4 L313.7 198.2 L315.0 201.0 L316.3 197.1 L317.6 202.5 L318.9 198.6 L320.2 199.2 L321.5 193.9 L322.8 199.6 L324.1 198.3 L325.4 197.3 L326.7 197.6 L328.0 198.7 L329.3 193.7 L330.6 201.0 L331.9 192.5 L333.2 197.3 L334.5 188.7 L335.8 193.0 L337.1 188.5 L338.4 191.3 L339.7 184.7 L341.0 195.8 L342.3 189.4 L343.6 192.4 L344.9 192.4 L346.2 199.1 L347.5 202.0 L348.8 207.8 L350.1 205.3 L351.4 211.9 L352.7 214.5 L354.0 216.8 L355.3 214.7 L356.6 220.5 L357.9 214.1 L359.2 216.6 L360.5 214.1 L361.8 218.3 L363.1 216.7 L364.4 219.5 L365.7 216.0 L367.0 222.6" fill="none" stroke="#000" stroke-width="0.8" stroke-linejoin="miter" stroke-miterlimit="8" stroke-opacity="1"/>
<path d="M45.9 502.7 L46.0 502.1 L46.0 499.9 L46.1 499.1 L46.2 497.8 L46.3 498.7 L46.4 497.4 L46.4 496.6 L46.5 495.0 L46.6 494.1 L46.7 492.2 L46.8 492.5 L46.9 490.3 L47.0 489.4 L47.1 488.6 L47.2 487.4 L47.4 487.0 L47.5 485.6 L47.6 484.7 L47.7 483.6 L47.9 483.3 L48.1 481.5 L48.2 480.7 L48.5 480.0 L48.7 478.1 L49.0 477.6 L49.3 477.0 L49.7 476.4 L50.3 475.2 L51.1 474.2 L51.7 475.2 L52.2 475.5 L52.6 476.8 L52.9 477.9 L53.1 478.7 L53.4 479.5 L53.6 480.9 L53.7 481.2 L53.9 482.5 L54.0 483.5 L54.2 484.3 L54.4 485.7 L54.6 486.7 L54.8 487.7 L55.0 488.6 L55.3 489.8 L55.6 491.3 L55.8 492.0 L56.2 491.4 L56.5 494.1 L56.9 493.8 L57.3 494.7 L57.8 496.2 L58.3 496.4 L59.0 498.3 L59.8 498.7 L60.7 498.8 L61.6 498.9 L62.5 500.0 L63.4 500.6 L64.4 500.3 L65.4 501.1 L66.5 500.7 L67.5 500.8 L68.4 500.3 L69.4 500.3 L70.4 499.8 L71.3 498.7 L72.3 500.1 L73.2 498.6 L74.1 498.3 L75.0 498.4 L75.9 497.4 L76.8 497.0 L77.7 496.6 L78.5 495.4 L79.4 496.0 L80.2 494.9 L81.1 494.0 L81.9 494.1 L82.7 493.3 L83.6 492.2 L84.5 492.1 L85.3 491.4 L86.1 490.9 L86.8 490.3 L87.5 489.8 L88.1 488.2 L88.7 487.9 L89.2 486.7 L89.7 486.4 L90.1 484.7 L90.6 483.5 L91.1 483.3 L91.6 483.6 L92.1 482.2 L92.6 480.8 L93.1 480.9 L93.6 478.9 L94.1 478.0 L94.7 477.7 L95.3 476.7 L96.0 475.8 L96.9 475.0 L97.8 474.6 L98.6 475.0 L99.3 474.6 L100.0 475.8 L100.7 477.6 L101.4 478.8 L102.2 477.1 L103.2 477.6 L104.1 477.5 L104.7 476.1 L105.2 475.2 L105.6 474.9 L106.0 473.2 L106.4 472.1 L106.8 471.3 L107.4 470.2 L108.1 469.2 L108.9 469.9 L109.8 469.5 L110.7 468.4 L111.5 467.8 L112.4 467.6 L113.3 467.0 L114.3 466.0 L115.2 465.9 L116.2 466.2 L117.1 465.5 L118.1 464.6 L119.0 464.2 L120.0 464.9 L121.0 463.7 L121.9 464.8 L122.9 464.7 L124.0 464.3 L124.9 464.9 L125.8 465.5 L126.5 466.2 L127.3 466.9 L128.0 468.1 L128.6 468.7 L129.2 468.9 L129.8 469.8 L130.4 470.4 L131.0 471.3 L131.6 472.4 L132.1 472.3 L132.6 474.1 L133.1 475.0 L133.6 475.8 L134.1 476.3 L134.6 477.4 L135.2 478.1 L135.8 479.1 L136.6 478.9 L137.4 480.5 L138.2 481.5 L139.1 481.4 L140.0 481.4 L141.0 482.0 L142.0 482.6 L143.0 481.6 L143.9 481.4 L144.8 480.7 L145.6 480.3 L146.4 479.5 L147.2 478.3 L148.1 478.4 L149.0 478.1 L149.9 477.0 L150.9 477.2 L151.8 477.5 L152.8 477.6 L153.7 477.6 L154.7 478.8 L155.7 478.7 L156.6 478.5 L157.6 478.0 L158.6 478.9 L159.6 479.3 L160.6 479.3 L161.6 479.7 L162.5 480.6 L163.5 480.6 L164.4 481.1 L165.4 480.3 L166.3 481.2 L167.3 481.9 L168.4 481.2 L169.5 482.4 L170.5 481.2 L171.3 481.5 L172.0 482.2 L172.6 480.1 L173.2 480.4 L173.7 478.5 L174.2 477.4 L174.7 476.9 L175.1 475.9 L175.5 475.3 L175.9 474.1 L176.3 473.1 L176.6 471.8 L177.0 471.4 L177.3 469.4 L177.6 469.7 L177.9 468.5 L178.2 468.0 L178.5 467.1 L178.8 465.0 L179.1 464.8 L179.4 463.3 L179.7 462.5 L179.9 462.0 L180.2 460.9 L180.5 460.0 L180.7 458.8 L181.0 457.9 L181.2 456.4 L181.5 455.6 L181.7 455.2 L181.9 453.5 L182.1 452.7 L182.4 452.3 L182.6 451.0 L182.8 449.7 L183.0 449.2 L183.2 448.6 L183.4 446.7 L183.6 445.5 L183.8 445.1 L184.0 443.8 L184.2 443.0 L184.3 441.9 L184.5 440.8 L184.7 440.1 L184.8 439.2 L185.0 437.7 L185.1 437.6 L185.3 436.7 L185.4 435.1 L185.5 434.3 L185.6 433.8 L185.8 431.7 L185.9 430.8 L186.0 430.1 L186.1 429.2 L186.2 428.5 L186.3 427.3 L186.4 425.5 L186.5 425.6 L186.5 424.7 L186.6 422.8 L186.7 422.4 L186.8 421.0 L186.9 420.0 L187.0 418.9 L187.1 418.8 L187.2 416.9 L187.3 416.2 L187.4 415.4 L187.5 413.8 L187.6 412.9 L187.7 411.8 L187.8 411.3 L187.9 408.8 L188.1 408.0 L188.2 406.7 L188.3 405.2 L188.4 404.6 L188.5 402.8 L188.6 401.4 L188.7 400.8 L188.9 399.9 L189.0 398.1 L189.1 397.9 L189.2 397.2 L189.3 396.3 L189.4 395.6 L189.5 396.1 L189.6 396.0 L189.8 395.5 L189.9 396.0 L190.0 397.4 L190.1 397.1 L190.2 397.4 L190.3 399.0 L190.4 400.2 L190.6 401.6 L190.7 402.3 L190.8 404.5 L190.9 404.8 L191.0 406.4 L191.1 408.1 L191.2 409.0 L191.4 409.3 L191.5 411.8 L191.6 412.9 L191.7 413.7 L191.8 415.5 L191.9 416.4 L192.0 416.8 L192.1 417.4 L192.1 418.3 L192.2 419.9 L192.3 420.8 L192.4 421.9 L192.5 421.9 L192.6 424.0 L192.6 424.5 L192.7 425.8 L192.8 427.9 L192.9 428.0 L193.0 429.4 L193.0 430.1 L193.1 431.3 L193.2 432.1 L193.3 432.9 L193.4 434.4 L193.5 434.5 L193.6 435.7 L193.7 437.2 L193.8 438.0 L193.9 439.8 L194.0 440.0 L194.1 441.0 L194.2 442.1 L194.4 442.4 L194.5 444.6 L194.6 444.8 L194.7 446.2 L194.8 446.6 L195.0 447.4 L195.1 448.9 L195.2 449.8 L195.4 451.1 L195.5 451.7 L195.7 453.9 L195.8 454.0 L196.0 454.5 L196.1 455.9 L196.3 457.5 L196.5 458.0 L196.6 458.5 L196.8 459.7 L197.0 461.2 L197.2 462.5 L197.5 462.5 L197.7 464.4 L197.9 464.5 L198.2 466.5 L198.5 466.6 L198.8 467.2 L199.2 468.6 L199.7 469.7 L200.1 471.0 L200.6 472.0 L201.2 472.6 L201.8 472.7 L202.4 473.6 L203.2 473.9 L204.2 474.5 L205.3 474.6 L206.3 474.8 L207.3 476.2 L208.2 474.9 L209.1 473.9 L210.0 473.8 L210.8 473.7 L211.4 472.7 L211.8 471.3 L212.3 471.1 L212.7 470.7 L213.1 468.3 L213.5 467.9 L213.9 467.3 L214.3 466.6 L214.6 465.3 L215.0 464.6 L215.3 462.8 L215.6 462.9 L215.9 461.0 L216.1 459.6 L216.4 459.4 L216.6 458.4 L216.9 457.0 L217.1 456.2 L217.4 455.6 L217.7 454.4 L218.1 453.3 L218.4 452.8 L218.8 451.7 L219.2 450.1 L219.7 449.6 L220.3 448.8 L221.1 448.8 L222.2 448.7 L223.1 449.0 L223.8 449.2 L224.5 450.4 L225.3 450.6 L226.2 451.3 L227.3 451.1 L228.3 450.9 L229.1 450.8 L229.9 449.2 L230.6 448.7 L231.6 448.7 L232.6 449.0 L233.3 448.3 L233.9 449.4 L234.3 450.8 L234.7 451.2 L235.1 452.6 L235.4 453.1 L235.8 455.1 L236.1 455.3 L236.4 456.5 L236.6 456.9 L236.9 458.2 L237.2 458.9 L237.5 460.6 L237.9 460.5 L238.2 462.7 L238.5 463.0 L238.8 464.1 L239.1 464.6 L239.4 465.9 L239.7 466.8 L240.1 467.7 L240.5 468.8 L240.8 469.0 L241.2 469.4 L241.6 471.7 L242.0 471.7 L242.5 473.4 L243.0 473.4 L243.6 474.6 L244.3 476.5 L245.0 477.0 L245.7 477.0 L246.4 477.5 L247.1 478.8 L247.9 478.2 L248.7 480.3 L249.5 480.1 L250.2 480.7 L250.9 481.8 L251.5 482.3 L252.0 483.1 L252.6 484.6 L253.1 485.0 L253.7 485.6 L254.2 486.9 L254.8 487.8 L255.4 488.7 L256.0 489.1 L256.5 489.8 L257.1 491.3 L257.8 491.6 L258.5 492.7 L259.2 492.5 L259.9 493.4 L260.7 494.5 L261.5 495.2 L262.4 495.7 L263.3 496.4 L264.2 496.9 L265.2 496.5 L266.2 496.9 L267.2 497.3 L268.1 497.1 L269.1 497.0 L270.1 497.8 L271.2 497.5 L272.2 496.3 L273.2 496.8 L274.2 496.9 L275.2 497.8 L276.2 496.3 L277.2 497.0 L278.1 496.6 L279.1 496.0 L280.1 496.3 L281.1 495.5 L282.0 494.8 L283.0 494.8 L284.0 495.7 L285.0 494.9 L286.0 495.6 L287.0 495.1 L288.0 494.2 L289.0 494.2 L290.0 495.0 L291.0 495.4 L292.0 494.7 L293.0 494.5 L294.0 494.4 L295.0 494.4 L296.0 494.3 L297.0 493.9 L298.0 493.8 L299.0 493.5 L300.0 493.5 L301.0 492.9 L301.9 493.2 L302.9 493.4 L303.9 493.1 L304.9 492.4 L305.9 493.1 L306.9 493.2 L307.9 491.7 L308.9 492.7 L309.9 492.5 L310.9 491.8 L311.9 491.1 L312.9 492.1 L313.9 492.3 L314.9 492.2 L315.9 492.3 L316.9 492.3 L317.9 491.8 L318.9 492.3 L319.9 492.4 L320.9 491.9 L321.9 491.4 L322.9 492.6 L323.9 491.5 L324.8 490.6 L325.8 491.2 L326.8 491.1 L327.8 490.7 L328.8 490.7 L329.8 491.1 L330.8 490.3 L331.8 490.8 L332.8 490.6 L333.8 491.3 L334.8 491.0 L335.8 492.1 L336.8 491.3 L337.8 490.9 L338.8 490.8 L339.8 492.2 L340.8 492.3 L341.8 491.8 L342.8 491.7 L343.8 492.1 L344.8 491.7 L345.8 490.4 L346.8 491.2 L347.8 491.5 L348.7 491.5 L349.7 491.3 L350.7 491.2 L351.7 490.3 L352.7 490.3 L353.7 490.4 L354.7 490.8 L355.7 489.9 L356.7 490.1 L357.7 490.9 L358.7 490.4" fill="none" stroke="#3f7f3f" stroke-width="0.9" stroke-linejoin="round" stroke-miterlimit="8" stroke-opacity="1"/>
<path d="M46.0 502.0 L46.7 480.0 L47.4 450.9 L48.1 435.7 L48.8 427.5 L49.5 419.6 L50.2 417.8 L50.9 417.8 L51.6 421.5 L52.3 423.1 L53.0 426.5 L53.7 423.6 L54.4 424.1 L55.1 420.8 L55.8 423.8 L56.5 420.5 L57.2 421.5 L57.9 420.0 L58.6 419.1 L59.3 411.0 L60.0 404.8 L60.7 396.4 L61.4 403.1 L62.1 409.3 L62.8 422.1 L63.5 428.8 L64.2 437.3 L64.9 440.3 L65.6 445.6 L66.3 445.9 L67.0 450.0 L67.7 449.2 L68.0 453.1 L69.2 448.6 L70.5 448.7 L71.8 441.2 L73.0 444.3 L74.2 435.1 L75.5 444.3 L76.8 438.9 L78.0 439.7 L79.2 434.4 L80.5 437.5 L81.8 427.7 L83.0 431.6 L84.2 423.5 L85.5 426.7 L86.8 422.5 L88.0 425.3 L89.2 418.3 L90.5 422.4 L91.8 419.8 L93.0 415.0 L94.2 410.4 L95.5 412.3 L96.8 408.4 L98.0 411.0 L99.2 402.9 L100.5 404.1 L101.8 401.5 L103.0 403.6 L104.2 394.1 L105.5 401.7 L106.8 394.4 L108.0 396.2 L109.2 389.4 L110.5 391.8 L111.8 381.3 L113.0 381.8 L114.2 377.5 L115.5 379.5 L116.8 376.2 L118.0 375.1 L119.2 372.1 L120.5 378.8 L121.8 377.4 L123.0 376.8 L124.2 373.7 L125.5 379.2 L126.8 374.4 L128.0 382.4 L129.2 380.8 L130.5 386.8 L131.8 385.7 L133.0 387.7 L134.2 391.4 L135.5 395.7 L136.8 390.2 L138.0 396.4 L139.2 396.4 L140.5 402.5 L141.8 396.5 L143.0 404.2 L144.2 402.9 L145.5 405.6 L146.8 404.7 L148.0 411.1 L149.2 401.7 L150.5 406.6 L151.8 402.2 L153.0 406.2 L154.2 403.9 L155.5 408.0 L156.8 401.9 L158.0 405.0 L159.2 406.1 L160.5 408.9 L161.8 407.7 L163.0 416.4 L164.2 410.0 L165.5 413.1 L166.8 411.5 L168.0 420.7 L169.2 415.7 L170.5 422.4 L171.8 419.3 L173.0 420.0 L174.2 417.0 L175.5 419.5 L176.8 410.2 L178.0 417.5 L179.2 414.7 L180.5 417.4 L181.8 413.8 L183.0 414.1 L184.2 410.8 L185.5 415.1 L186.8 408.4 L188.0 408.0 L189.2 395.5 L190.5 403.8 L191.8 405.5 L193.0 415.2 L194.2 414.8 L195.5 418.9 L196.8 410.9 L198.0 417.5 L199.2 409.7 L200.5 418.5 L201.8 410.4 L203.0 409.4 L204.2 407.9 L205.5 406.6 L206.8 401.8 L208.0 403.7 L209.2 398.3 L210.5 398.6 L211.8 388.2 L213.0 387.1 L214.2 380.1 L215.5 382.8 L216.8 374.0 L218.0 377.1 L219.2 374.5 L220.5 374.2 L221.8 370.4 L223.0 376.4 L224.2 372.4 L225.5 375.2 L226.8 368.2 L228.0 373.1 L229.2 365.8 L230.5 372.5 L231.8 364.2 L233.0 371.3 L234.2 368.8 L235.5 380.5 L236.8 378.9 L238.0 388.2 L239.2 386.4 L240.5 391.9 L241.8 392.8 L243.0 396.4 L244.2 393.9 L245.5 398.9 L246.8 395.8 L248.0 401.7 L249.2 399.8 L250.5 400.7 L251.8 397.7 L253.0 400.4 L254.2 399.0 L255.5 401.6 L256.8 398.1 L258.0 396.5 L259.2 394.1 L260.5 400.3 L261.8 395.5 L263.0 397.2 L264.2 392.1 L265.5 397.1 L266.8 394.1 L268.0 391.2 L269.2 389.0 L270.5 395.8 L271.8 385.5 L273.0 392.6 L274.2 383.6 L275.5 387.1 L276.8 384.2 L278.0 387.8 L279.2 377.8 L280.5 380.2 L281.8 373.0 L283.0 375.7 L284.2 371.8 L285.5 373.9 L286.8 368.5 L288.0 373.1 L289.2 368.0 L290.5 375.2 L291.8 372.3 L293.0 373.3 L294.2 373.1 L295.5 374.8 L296.8 374.8 L298.0 378.9 L299.2 374.9 L300.5 379.3 L301.8 374.5 L303.0 377.6 L304.2 372.7 L305.5 377.9 L306.8 374.2 L308.0 378.1 L309.2 373.1 L310.5 378.3 L311.8 374.9 L313.0 376.4 L314.2 372.6 L315.5 379.4 L316.8 377.4 L318.0 379.6 L319.2 373.5 L320.5 377.1 L321.8 373.3 L323.0 373.1 L324.2 371.0 L325.5 371.9 L326.8 366.9 L328.0 370.4 L329.2 361.8 L330.5 370.7 L331.8 367.5 L333.0 368.1 L334.2 360.5 L335.5 364.3 L336.8 359.8 L338.0 363.9 L339.2 369.4 L340.5 377.0 L341.8 378.8 L343.0 384.9 L344.2 386.0 L345.5 393.7 L346.8 392.9 L348.0 404.5 L349.2 398.8 L350.5 401.6 L351.8 398.7 L353.0 405.6 L354.2 401.7 L355.5 406.2 L356.8 402.5 L358.0 407.6" fill="none" stroke="#174a1c" stroke-width="0.8" stroke-linejoin="miter" stroke-miterlimit="8" stroke-opacity="1"/>
<path d="M44.4 466.0 L44.5 465.1 L44.5 464.0 L44.6 462.9 L44.6 461.8 L44.7 461.1 L44.8 460.1 L44.8 458.8 L44.9 458.2 L44.9 457.0 L45.0 456.3 L45.1 455.1 L45.1 454.0 L45.2 453.1 L45.2 452.0 L45.3 451.0 L45.3 450.0 L45.4 449.0 L45.4 448.1 L45.5 447.1 L45.5 446.0 L45.6 445.2 L45.7 443.9 L45.7 442.9 L45.8 442.1 L45.8 440.9 L45.9 440.1 L45.9 439.1 L45.9 438.0 L46.0 437.0 L46.0 435.9 L46.1 434.8 L46.1 434.1 L46.2 433.1 L46.2 432.0 L46.3 431.0 L46.3 429.8 L46.4 428.9 L46.4 427.9 L46.5 427.0 L46.5 426.1 L46.6 424.9 L46.6 423.9 L46.6 423.1 L46.7 422.0 L46.7 420.8 L46.8 420.1 L46.8 418.9 L46.9 417.9 L46.9 416.9 L47.0 416.0 L47.0 415.1 L47.0 413.9 L47.1 413.0 L47.1 411.9 L47.2 411.2 L47.2 410.1 L47.3 408.9 L47.3 408.0 L47.3 407.0 L47.4 406.0 L47.4 404.9 L47.4 403.9 L47.5 403.0 L47.5 402.0 L47.6 400.9 L47.6 400.0 L47.7 398.8 L47.7 397.7 L47.7 397.0 L47.8 396.0 L47.8 395.0 L47.9 394.1 L47.9 393.1 L48.0 392.0 L48.0 390.9 L48.1 389.9 L48.1 388.8 L48.2 387.9 L48.3 386.9 L48.3 385.9 L48.4 385.0 L48.4 383.7 L48.5 383.0 L48.6 381.8 L48.7 381.0 L48.8 379.9 L48.9 378.8 L49.0 378.0 L49.1 376.9 L49.3 376.0 L49.7 374.7 L50.1 373.5 L50.5 372.8 L50.9 372.8 L51.3 373.3 L51.6 374.4 L52.0 375.8 L52.4 376.7 L53.0 377.4 L53.9 378.0 L54.7 378.3 L55.4 377.8 L56.0 376.8 L56.5 375.6 L56.9 374.7 L57.2 373.8 L57.5 372.8 L57.7 371.8 L58.0 370.8 L58.1 369.8 L58.3 369.0 L58.4 367.9 L58.5 366.7 L58.6 366.0 L58.7 364.9 L58.8 364.1 L58.9 362.9 L59.0 361.9 L59.1 360.9 L59.1 359.9 L59.2 358.9 L59.3 357.9 L59.3 356.9 L59.4 355.8 L59.4 354.9 L59.5 353.8 L59.5 352.8 L59.6 351.8 L59.7 350.8 L59.7 349.8 L59.8 348.9 L59.8 347.9 L59.9 346.8 L59.9 345.7 L60.0 344.5 L60.0 343.2 L60.1 342.0 L60.1 340.7 L60.2 339.2 L60.2 338.1 L60.3 336.7 L60.3 335.0 L60.3 334.1 L60.4 332.7 L60.4 331.6 L60.5 330.2 L60.5 329.1 L60.6 328.1 L60.6 326.8 L60.7 325.8 L60.7 325.0 L60.7 324.3 L60.8 323.6 L60.9 323.0 L60.9 322.4 L61.0 322.0 L61.0 321.8 L61.1 321.7 L61.2 321.6 L61.2 322.1 L61.3 322.5 L61.4 323.3 L61.5 324.3 L61.6 325.4 L61.7 326.7 L61.8 327.9 L61.9 329.1 L62.0 330.5 L62.1 331.8 L62.2 333.0 L62.2 334.4 L62.3 335.4 L62.4 336.3 L62.4 337.3 L62.5 338.3 L62.5 339.3 L62.6 340.2 L62.6 341.4 L62.6 342.3 L62.7 343.4 L62.7 344.4 L62.8 345.4 L62.8 346.2 L62.8 347.2 L62.9 348.4 L62.9 349.4 L62.9 350.2 L63.0 351.2 L63.0 352.4 L63.0 353.3 L63.1 354.5 L63.1 355.4 L63.1 356.4 L63.2 357.3 L63.2 358.3 L63.3 359.2 L63.3 360.1 L63.4 361.5 L63.4 362.4 L63.5 363.3 L63.5 364.5 L63.6 365.2 L63.6 366.5 L63.7 367.4 L63.7 368.5 L63.8 369.2 L63.8 370.5 L63.9 371.5 L63.9 372.4 L64.0 373.3 L64.1 374.4 L64.1 375.4 L64.2 376.3 L64.3 377.2 L64.4 378.3 L64.5 379.3 L64.6 380.5 L64.7 381.5 L64.8 382.5 L65.0 383.4 L65.2 384.2 L65.4 385.3 L65.7 386.2 L65.9 387.3 L66.2 388.4 L66.6 389.1 L67.0 390.1 L67.5 391.3 L68.1 392.3 L68.7 393.0 L69.5 392.9 L70.4 392.7 L71.4 392.4 L72.4 392.1 L73.3 391.7 L74.2 391.1 L75.1 390.8 L75.9 390.0 L76.7 389.4 L77.4 388.8 L78.1 388.0 L78.8 387.4 L79.4 386.6 L80.0 385.8 L80.6 385.0 L81.2 384.0 L81.8 383.2 L82.3 382.5 L82.9 381.6 L83.4 380.9 L84.0 379.9 L84.5 379.3 L85.0 378.2 L85.5 377.1 L86.0 376.4 L86.4 375.6 L86.9 374.8 L87.3 373.9 L87.7 372.9 L88.1 372.1 L88.4 370.9 L88.8 370.0 L89.1 369.0 L89.4 368.2 L89.7 367.3 L90.0 366.2 L90.3 365.3 L90.6 364.2 L90.9 363.3 L91.3 362.4 L91.6 361.6 L91.9 360.5 L92.2 359.6 L92.6 358.7 L92.9 357.7 L93.2 356.6 L93.5 355.9 L93.8 354.8 L94.2 353.8 L94.5 352.9 L94.9 352.0 L95.3 351.0 L95.7 350.1 L96.1 349.1 L96.5 347.6 L97.0 346.4 L97.4 345.7 L97.9 344.9 L98.5 344.5 L99.0 344.6 L99.7 345.2 L100.4 346.2 L101.1 346.9 L101.8 347.9 L102.6 348.7 L103.2 348.9 L103.8 348.7 L104.3 348.1 L104.8 347.3 L105.3 346.2 L105.7 345.2 L106.2 344.0 L106.6 342.9 L107.0 341.6 L107.4 340.8 L107.8 340.0 L108.1 339.0 L108.5 338.1 L108.8 337.1 L109.2 336.1 L109.5 335.2 L109.8 334.3 L110.2 333.3 L110.5 332.4 L110.9 331.6 L111.2 330.6 L111.6 329.7 L112.0 328.7 L112.3 327.7 L112.7 326.7 L113.1 325.9 L113.5 324.8 L113.9 324.0 L114.4 323.0 L114.9 322.1 L115.4 321.3 L116.1 320.4 L116.8 319.4 L117.5 318.9 L118.3 318.3 L119.2 318.3 L120.2 318.7 L121.2 318.9 L121.9 319.3 L122.4 320.3 L122.9 321.0 L123.4 322.0 L123.8 322.9 L124.2 324.1 L124.7 325.0 L125.2 325.5 L125.6 326.7 L126.0 327.6 L126.5 328.5 L126.9 329.3 L127.3 330.3 L127.8 331.4 L128.2 332.2 L128.7 332.9 L129.2 333.9 L129.6 334.7 L130.1 335.7 L130.5 336.3 L131.0 337.5 L131.4 338.4 L131.9 339.3 L132.3 340.0 L132.8 341.0 L133.3 341.8 L133.7 342.9 L134.2 343.7 L134.6 344.8 L135.0 345.6 L135.4 346.2 L135.7 347.4 L136.1 348.3 L136.4 349.4 L136.7 350.3 L137.0 351.1 L137.2 352.1 L137.5 353.2 L137.8 354.0 L138.1 355.1 L138.4 355.9 L138.7 357.1 L138.9 358.1 L139.2 359.0 L139.5 359.8 L139.9 360.8 L140.3 361.7 L140.8 362.5 L141.3 363.4 L142.0 364.1 L142.6 364.8 L143.4 365.5 L144.2 366.3 L145.1 366.7 L146.0 367.2 L146.9 367.6 L147.9 367.6 L148.9 367.7 L149.9 367.8 L150.9 368.1 L151.9 368.1 L152.9 368.1 L153.9 368.1 L154.9 368.2 L155.9 368.1 L156.9 368.4 L157.8 368.6 L158.8 368.9 L159.7 369.5 L160.6 369.7 L161.5 370.2 L162.4 370.7 L163.4 371.1 L164.4 371.2 L165.4 371.5 L166.4 371.9 L167.3 372.2 L168.3 372.1 L169.2 372.1 L170.1 371.7 L171.0 370.9 L171.7 370.1 L172.4 369.6 L172.9 368.5 L173.4 367.9 L173.8 367.0 L174.2 365.8 L174.6 365.0 L174.9 364.1 L175.3 362.9 L175.6 361.8 L175.9 361.0 L176.2 360.3 L176.5 359.1 L176.7 358.3 L177.0 357.1 L177.2 356.2 L177.4 355.2 L177.7 354.3 L177.9 353.4 L178.1 352.3 L178.4 351.3 L178.6 350.4 L178.9 349.4 L179.1 348.4 L179.4 347.4 L179.6 346.4 L179.9 345.6 L180.1 344.8 L180.4 343.6 L180.6 342.6 L180.8 341.6 L181.0 340.6 L181.2 339.8 L181.4 338.7 L181.5 337.8 L181.7 336.8 L181.9 335.7 L182.1 334.9 L182.2 333.8 L182.4 332.8 L182.6 331.7 L182.7 330.8 L182.9 329.6 L183.0 328.8 L183.2 327.8 L183.3 326.8 L183.5 325.9 L183.6 324.7 L183.8 323.8 L183.9 322.7 L184.0 321.9 L184.2 320.8 L184.3 320.0 L184.5 318.8 L184.6 317.9 L184.7 316.9 L184.8 315.9 L185.0 315.0 L185.1 314.1 L185.2 313.1 L185.3 311.8 L185.4 311.0 L185.6 309.8 L185.7 309.0 L185.8 307.9 L185.9 307.0 L186.0 306.0 L186.2 305.0 L186.3 303.9 L186.4 302.8 L186.5 301.8 L186.6 300.9 L186.8 300.0 L186.9 299.1 L187.0 298.1 L187.1 296.9 L187.2 295.9 L187.2 295.0 L187.3 294.0 L187.4 292.9 L187.6 291.8 L187.7 291.1 L187.8 289.9 L188.0 288.8 L188.1 288.0 L188.3 287.0 L188.5 286.0 L188.8 284.8 L189.2 283.5 L189.6 283.2 L189.9 283.1 L190.2 283.7 L190.4 284.9 L190.7 286.0 L190.9 287.5 L191.0 288.5 L191.2 289.6 L191.3 290.6 L191.4 291.5 L191.5 292.7 L191.7 293.5 L191.8 294.6 L191.9 295.5 L191.9 296.5 L192.0 297.4 L192.1 298.6 L192.2 299.6 L192.3 300.7 L192.3 301.4 L192.4 302.4 L192.5 303.5 L192.6 304.5 L192.7 305.5 L192.8 306.3 L192.9 307.5 L193.0 308.5 L193.1 309.6 L193.2 310.5 L193.3 311.5 L193.4 312.6 L193.5 313.6 L193.6 314.5 L193.7 315.5 L193.8 316.5 L193.9 317.6 L194.0 318.5 L194.1 319.5 L194.2 320.6 L194.3 321.4 L194.4 322.4 L194.5 323.5 L194.7 324.6 L194.8 325.5 L194.9 326.3 L195.0 327.5 L195.1 328.5 L195.3 329.5 L195.4 330.3 L195.5 331.3 L195.7 332.4 L195.8 333.5 L195.9 334.3 L196.1 335.3 L196.2 336.3 L196.3 337.5 L196.4 338.4 L196.6 339.5 L196.7 340.4 L196.9 341.5 L197.0 342.4 L197.2 343.5 L197.4 344.4 L197.6 345.3 L197.8 346.4 L198.0 347.2 L198.3 348.2 L198.6 349.3 L199.0 350.4 L199.4 351.6 L199.9 352.7 L200.5 353.2 L201.0 353.6 L201.7 353.3 L202.5 352.3 L203.2 351.4 L203.9 350.5 L204.6 349.9 L205.3 349.2 L206.0 348.5 L206.7 347.9 L207.4 346.9 L208.2 346.5 L208.9 345.7 L209.7 345.0 L210.4 344.3 L211.0 343.5 L211.5 342.7 L211.9 341.8 L212.3 341.0 L212.7 339.9 L213.0 339.1 L213.3 338.1 L213.6 337.0 L213.9 336.1 L214.2 335.3 L214.4 334.0 L214.7 333.1 L215.0 332.3 L215.2 331.3 L215.5 330.2 L215.8 329.2 L216.0 328.4 L216.3 327.5 L216.5 326.3 L216.8 325.3 L217.1 324.6 L217.3 323.6 L217.7 322.4 L218.0 321.5 L218.4 320.7 L218.8 319.9 L219.3 318.9 L219.8 318.0 L220.3 317.0 L220.9 316.5 L221.7 315.6 L222.3 316.2 L222.9 317.0 L223.6 317.9 L224.2 318.8 L224.9 319.5 L225.7 320.2 L226.5 320.8 L227.4 320.8 L228.3 320.5 L229.2 319.7 L230.0 319.4 L230.9 318.8 L231.7 317.7 L232.5 317.7 L233.2 318.4 L233.9 319.3 L234.5 320.2 L234.9 321.2 L235.2 322.1 L235.5 322.9 L235.7 324.0 L235.9 325.0 L236.1 326.0 L236.3 327.1 L236.5 328.0 L236.6 329.0 L236.8 329.8 L237.0 331.0 L237.2 331.9 L237.5 333.1 L237.7 334.1 L238.0 334.9 L238.2 335.8 L238.5 336.8 L238.8 337.8 L239.0 338.7 L239.3 339.8 L239.6 340.7 L239.9 341.8 L240.3 342.7 L240.6 343.5 L240.9 344.4 L241.3 345.5 L241.7 346.3 L242.1 347.1 L242.5 348.1 L243.0 348.9 L243.6 350.0 L244.2 350.6 L244.8 351.4 L245.5 352.0 L246.1 353.1 L246.8 353.8 L247.5 354.5 L248.1 355.2 L248.8 355.9 L249.5 356.7 L250.3 357.3 L251.0 358.0 L251.7 358.7 L252.4 359.2 L253.2 360.1 L253.9 360.8 L254.6 361.4 L255.4 362.2 L256.2 362.9 L257.0 363.4 L257.8 363.8 L258.7 364.5 L259.6 365.0 L260.5 365.5 L261.4 365.8 L262.3 366.1 L263.3 366.2 L264.3 366.2 L265.3 366.6 L266.3 366.6 L267.3 366.8 L268.3 366.8 L269.3 366.6 L270.3 366.6 L271.3 366.2 L272.3 366.2 L273.2 365.8 L274.2 365.6 L275.2 365.4 L276.2 365.3 L277.2 365.3 L278.1 364.8 L279.1 364.6 L280.1 364.4 L281.1 364.1 L282.0 363.9 L283.0 363.7 L284.0 363.4 L285.0 363.1 L286.0 363.2 L286.9 362.9 L287.9 362.6 L288.9 362.6 L289.9 362.3 L290.9 362.1 L291.9 361.9 L292.9 361.9 L293.9 361.8 L294.9 361.8 L295.9 361.5 L296.9 361.4 L297.9 361.4 L298.9 361.3 L299.8 361.1 L300.8 361.2 L301.8 361.0 L302.8 360.6 L303.8 360.3 L304.8 360.2 L305.7 359.9 L306.7 359.8 L307.7 359.6 L308.7 359.4 L309.7 359.0 L310.7 359.2 L311.6 358.7 L312.6 358.5 L313.6 358.4 L314.6 358.2 L315.6 357.9 L316.5 357.8 L317.5 357.4 L318.5 357.3 L319.5 357.1 L320.4 356.8 L321.4 356.7 L322.4 356.5 L323.4 356.1 L324.4 356.0 L325.3 355.7 L326.3 355.5 L327.3 355.2 L328.3 354.9 L329.3 355.0 L330.3 355.0 L331.3 355.0 L332.3 354.9 L333.3 355.1 L334.3 355.3 L335.2 355.4 L336.2 355.5 L337.2 355.7 L338.2 355.9 L339.2 356.0 L340.2 356.2 L341.2 356.3 L342.2 356.7 L343.2 356.8 L344.2 356.9 L345.2 357.1 L346.2 357.0 L347.1 356.8 L348.1 356.7 L349.1 356.2 L350.0 355.9 L351.0 355.7 L352.0 355.3 L352.9 355.2 L353.9 354.8 L354.9 354.6 L355.8 354.4 L356.8 353.9 L357.7 353.6 L358.7 353.5" fill="none" stroke="#3d3d3d" stroke-width="1.0" stroke-linejoin="round" stroke-miterlimit="8" stroke-opacity="1"/>
</g>
<g id="axes">
<path d="M42.5 7 V267.2 H367.5" fill="none" stroke="#000" stroke-width="1.25" stroke-linejoin="round"/>
<path d="M84.2 267.2 V270.8" stroke="#000" stroke-width="1.15"/>
<path d="M133.0 267.2 V273" stroke="#000" stroke-width="1.15"/>
<path d="M181.8 267.2 V270.8" stroke="#000" stroke-width="1.15"/>
<path d="M230.5 267.2 V273" stroke="#000" stroke-width="1.15"/>
<path d="M279.3 267.2 V270.8" stroke="#000" stroke-width="1.15"/>
<path d="M328.2 267.2 V273" stroke="#000" stroke-width="1.15"/>
<path d="M43.65 275 V503.5 H359" fill="none" stroke="#000" stroke-width="1.3" stroke-linejoin="round"/>
<path d="M83.7 503.5 V506.2" stroke="#000" stroke-width="1.15"/>
<path d="M131.1 503.5 V508.3" stroke="#000" stroke-width="1.15"/>
<path d="M178.5 503.5 V506.2" stroke="#000" stroke-width="1.15"/>
<path d="M225.8 503.5 V508.3" stroke="#000" stroke-width="1.15"/>
<path d="M273.2 503.5 V506.2" stroke="#000" stroke-width="1.15"/>
<path d="M320.6 503.5 V508.3" stroke="#000" stroke-width="1.15"/>
</g>
<g id="labels">
<text transform="translate(47.7 20.9) scale(0.95 1)" font-size="14" fill="#111" text-anchor="start" stroke="#111" stroke-width="0.3" >A)</text>
<text transform="translate(198.4 15.9) scale(0.94 1)" font-size="10" fill="#111" text-anchor="start" stroke="#111" stroke-width="0.35" >813</text>
<text transform="translate(100.6 103.0) rotate(-90) scale(0.92 1)" font-size="10.3" fill="#111"  stroke="#111" stroke-width="0.35">325</text>
<text transform="translate(113.3 88.5) rotate(-90) scale(0.92 1)" font-size="10.3" fill="#111"  stroke="#111" stroke-width="0.35">390</text>
<text transform="translate(127.4 79.7) rotate(-90) scale(0.92 1)" font-size="10.3" fill="#111"  stroke="#111" stroke-width="0.35">445</text>
<text transform="translate(124.5 126.3) rotate(-90) scale(0.92 1)" font-size="10.3" fill="#111"  stroke="#111" stroke-width="0.35">450</text>
<text transform="translate(227.4 49.0) rotate(-90) scale(0.92 1)" font-size="10.3" fill="#111"  stroke="#111" stroke-width="0.35">975</text>
<text transform="translate(242.2 49.4) rotate(-90) scale(0.92 1)" font-size="10.3" fill="#111"  stroke="#111" stroke-width="0.35">1045</text>
<text transform="translate(213.2 137.0) rotate(-90) scale(0.92 1)" font-size="10.3" fill="#111"  stroke="#111" stroke-width="0.35">892</text>
<text transform="translate(230.4 121.3) rotate(-90) scale(0.92 1)" font-size="10.3" fill="#111"  stroke="#111" stroke-width="0.35">970</text>
<text transform="translate(244.5 124.4) rotate(-90) scale(0.92 1)" font-size="10.3" fill="#111"  stroke="#111" stroke-width="0.35">1040</text>
<text transform="translate(118.5 191.7) scale(1.0 1)" font-size="9.6" fill="#111" text-anchor="start" stroke="#111" stroke-width="0.3" >480</text>
<text transform="translate(145.9 205.5) scale(1.0 1)" font-size="9.6" fill="#111" text-anchor="start" stroke="#111" stroke-width="0.3" >590</text>
<text transform="translate(221.5 193.7) scale(1.0 1)" font-size="9.6" fill="#111" text-anchor="start" stroke="#111" stroke-width="0.3" >1000</text>
<text transform="translate(279.0 189.9) scale(1.0 1)" font-size="9.6" fill="#111" text-anchor="start" stroke="#111" stroke-width="0.3" >1335</text>
<text transform="translate(332.3 175.4) scale(1.0 1)" font-size="9.4" fill="#111" text-anchor="start" stroke="#111" stroke-width="0.4" >1570</text>
<text transform="translate(357.4 50.3) scale(0.95 1)" font-size="12.2" fill="#111" text-anchor="start" stroke="#111" stroke-width="0.3" letter-spacing="0.9">a)</text>
<text transform="translate(357.6 83.0) scale(0.95 1)" font-size="12.2" fill="#2222dd" text-anchor="start" stroke="#2222dd" stroke-width="0.3" letter-spacing="0.9">b)</text>
<text transform="translate(354.5 187.8) scale(0.95 1)" font-size="12.2" fill="#111" text-anchor="start" stroke="#111" stroke-width="0.3" letter-spacing="0.9">d)</text>
<text transform="translate(357.4 213.2) scale(0.95 1)" font-size="12.2" fill="#111" text-anchor="start" stroke="#111" stroke-width="0.3" letter-spacing="0.9">c)</text>
<text transform="translate(355.4 241.7) scale(0.95 1)" font-size="12.2" fill="#111" text-anchor="start" stroke="#111" stroke-width="0.3" letter-spacing="0.5">c')</text>
<text transform="translate(28.0 175.3) rotate(-90) scale(0.985 1)" font-size="11.8" fill="#000"  stroke="#000" stroke-width="0.2">Raman&#160;&#160;Intensity</text>
<text transform="translate(48.9 292.5) scale(0.9 1)" font-size="14" fill="#222" text-anchor="start" stroke="#222" stroke-width="0.3" >B)</text>
<text transform="translate(56.0 315.6) scale(0.99 1)" font-size="9.3" fill="#222" text-anchor="start" stroke="#222" stroke-width="0.22" >133</text>
<text transform="translate(112.3 309.0) scale(0.99 1)" font-size="9.3" fill="#222" text-anchor="start" stroke="#222" stroke-width="0.22" >436</text>
<text transform="translate(88.8 337.8) scale(0.99 1)" font-size="9.3" fill="#222" text-anchor="start" stroke="#222" stroke-width="0.22" >328</text>
<text transform="translate(56.8 367.3) rotate(-90) scale(1.0 1)" font-size="7.5" fill="#222" >105</text>
<text transform="translate(88.2 368.1) rotate(-90) scale(1.0 1)" font-size="9" fill="#222" >258</text>
<text transform="translate(138.6 335.3) rotate(-90) scale(0.99 1)" font-size="9.3" fill="#222"  stroke="#222" stroke-width="0.22">510</text>
<text transform="translate(195.3 288.3) scale(0.99 1)" font-size="9.3" fill="#222" text-anchor="start" stroke="#222" stroke-width="0.22" >811</text>
<text transform="translate(210.6 337.4) rotate(-90) scale(0.99 1)" font-size="9.3" fill="#222"  stroke="#222" stroke-width="0.22">920</text>
<text transform="translate(213.3 310.0) scale(0.99 1)" font-size="9.3" fill="#222" text-anchor="start" stroke="#222" stroke-width="0.22" >972</text>
<text transform="translate(227.8 313.9) scale(0.99 1)" font-size="9.3" fill="#222" text-anchor="start" stroke="#222" stroke-width="0.22" >1038</text>
<text transform="translate(223.1 359.6) scale(0.99 1)" font-size="9.3" fill="#222" text-anchor="start" stroke="#222" stroke-width="0.22" >1027</text>
<text transform="translate(278.2 351.6) scale(0.92 1)" font-size="10" fill="#222" text-anchor="start" stroke="#222" stroke-width="0.22" >1335</text>
<text transform="translate(323.6 344.9) scale(0.99 1)" font-size="9.3" fill="#222" text-anchor="start" stroke="#222" stroke-width="0.22" >1565</text>
<text transform="translate(347.4 346.7) scale(1.0 1)" font-size="10.6" fill="#000" text-anchor="start" font-weight="bold" letter-spacing="1.4">a)</text>
<text transform="translate(349.4 391.0) scale(0.96 1)" font-size="12.3" fill="#000" text-anchor="start" stroke="#000" stroke-width="0.35" letter-spacing="0.7">b)</text>
<text transform="translate(182.7 385.4) scale(0.99 1)" font-size="9.3" fill="#222" text-anchor="start" stroke="#222" stroke-width="0.22" >810</text>
<text transform="translate(86.8 467.0) scale(0.99 1)" font-size="9.3" fill="#222" text-anchor="start" stroke="#222" stroke-width="0.22" >321</text>
<text transform="translate(113.0 460.9) rotate(-90) scale(0.99 1)" font-size="9.3" fill="#222"  stroke="#222" stroke-width="0.22">387</text>
<text transform="translate(126.0 457.8) rotate(-90) scale(0.99 1)" font-size="9.3" fill="#222"  stroke="#222" stroke-width="0.22">450</text>
<text transform="translate(155.2 470.0) rotate(-90) scale(0.99 1)" font-size="9.3" fill="#222"  stroke="#222" stroke-width="0.22">608</text>
<text transform="translate(222.2 441.6) rotate(-90) scale(0.99 1)" font-size="9.3" fill="#222"  stroke="#222" stroke-width="0.22">975</text>
<text transform="translate(238.1 442.7) rotate(-90) scale(0.99 1)" font-size="9.3" fill="#222"  stroke="#222" stroke-width="0.22">1038</text>
<text transform="translate(257.2 477.3) rotate(-90) scale(0.99 1)" font-size="9.3" fill="#222"  stroke="#222" stroke-width="0.22">1130</text>
<text transform="translate(350.5 480.7) scale(1.0 1)" font-size="11" fill="#000" text-anchor="start" font-weight="bold" letter-spacing="1.5">c)</text>
<text transform="translate(130.8 520.0) scale(1.0 1)" font-size="11" fill="#111" text-anchor="middle" stroke="#111" stroke-width="0.22" letter-spacing="0.3">500</text>
<text transform="translate(225.9 520.0) scale(1.0 1)" font-size="11" fill="#111" text-anchor="middle" stroke="#111" stroke-width="0.22" letter-spacing="0.3">1000</text>
<text transform="translate(320.5 520.0) scale(1.0 1)" font-size="11" fill="#111" text-anchor="middle" stroke="#111" stroke-width="0.22" letter-spacing="0.3">1500</text>
<text transform="translate(33.5 430.8) rotate(-90) scale(0.96 1)" font-size="11.8" fill="#000"  stroke="#000" stroke-width="0.2">Raman&#160;&#160;Intensity</text>
<text x="147.8" y="542.2" font-size="11" fill="#000" stroke="#000" stroke-width="0.25" letter-spacing="0.35">Wavenumber&#160;&#160;/&#160;&#160;cm<tspan font-size="6.5" dy="-5.5" letter-spacing="0">-1</tspan></text>
</g>
</svg>
</body></html>
